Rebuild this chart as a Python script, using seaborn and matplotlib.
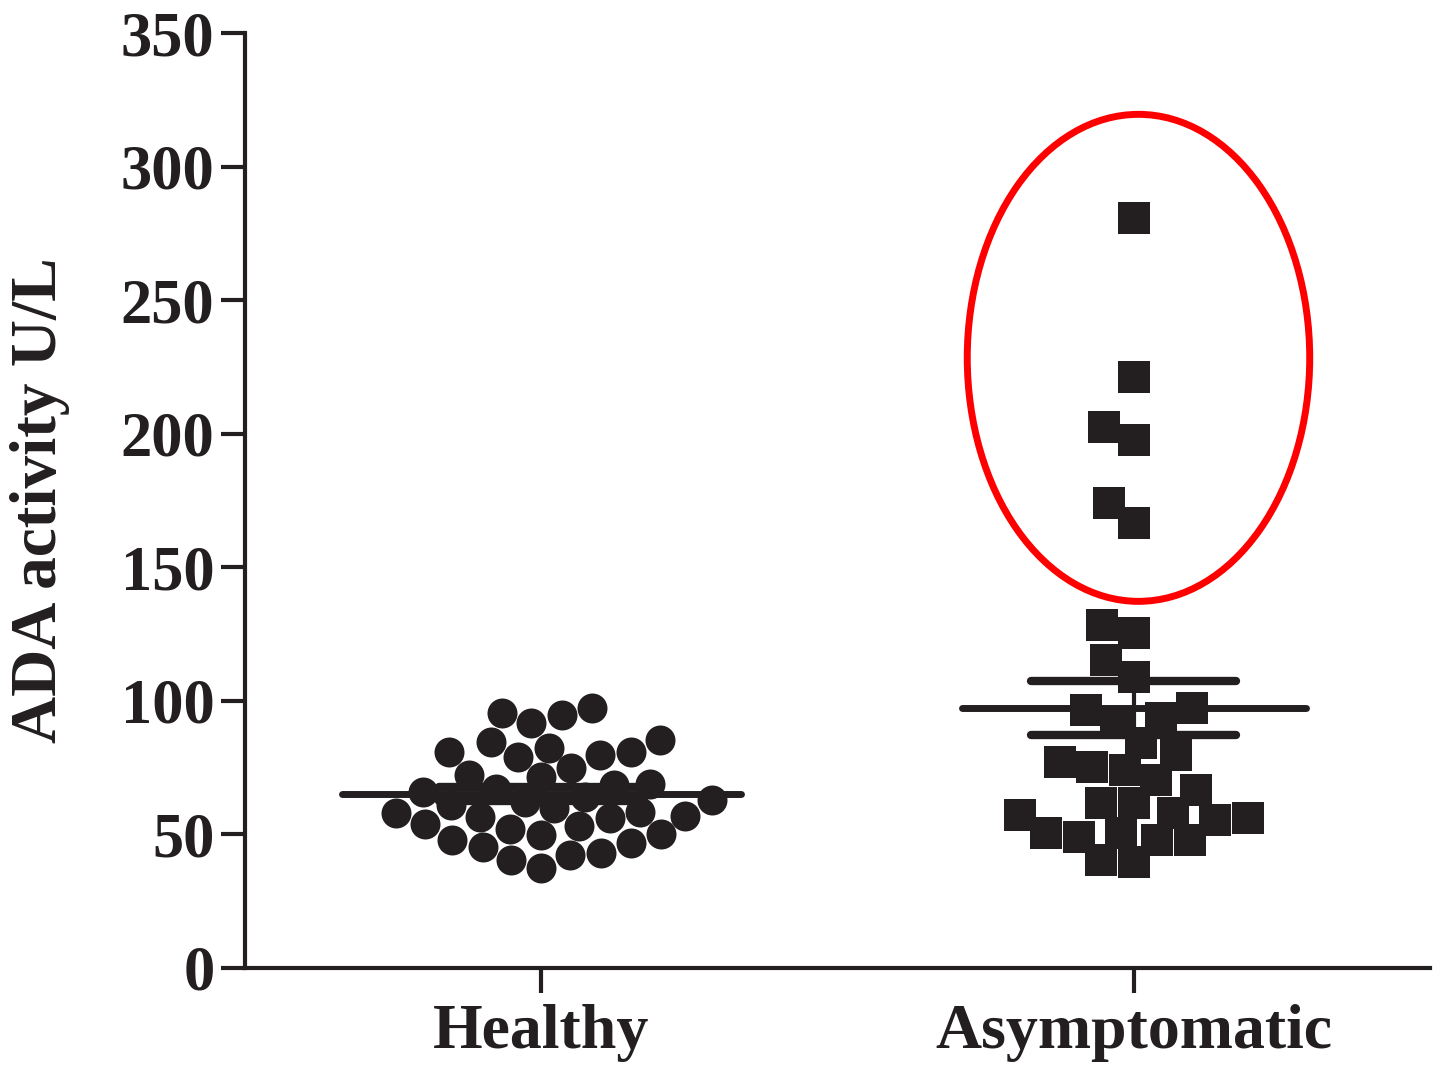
import matplotlib
matplotlib.use("Agg")
import matplotlib.pyplot as plt
from matplotlib.patches import Ellipse
import numpy as np
import pandas as pd
import seaborn as sns

# ADA activity (U/L)
groups = ["Healthy", "Asymptomatic"]
healthy_ada = [84.6, 81, 79, 95.5, 91.7, 94.7, 97.3, 85.4, 79.7, 80.9, 82.4,
               71.5, 74.9, 68.5, 72.3, 62.9, 58.4, 49.8, 56.5, 45.3, 42.3,
               37.4, 40.4, 43, 46.8,
               69, 66, 64, 62, 60, 58, 56, 54, 52, 50, 67, 61, 57, 53, 48]
asymptomatic_ada = [280.8, 221.3, 202.5, 197.7, 174.1, 166.6,
                    128.4, 125.4, 115.3, 109, 96.6, 97.3, 91.7, 93.6, 79.7,
                    84.2, 75.3, 70.4, 74.1, 77.1, 66.6, 61.8, 58, 61.8, 55.4,
                    57.3, 50.5, 49, 47.9, 47.9, 50.5, 39.7, 40.4, 56]
y_ticks = [0, 50, 100, 150, 200, 250, 300, 350]

# highlighted outliers (centre x, centre y, width, height)
outlier_box = (1.008, 228.4, 0.578, 182.3)

df = pd.DataFrame({
    "group": ["Healthy"] * len(healthy_ada) + ["Asymptomatic"] * len(asymptomatic_ada),
    "ada": healthy_ada + asymptomatic_ada,
})

sns.set_style("ticks")
plt.rcParams["font.family"] = ["Liberation Serif", "DejaVu Serif"]
plt.rcParams["font.weight"] = "bold"

fig = plt.figure(figsize=(14.4, 10.65), dpi=100)
ax = fig.add_axes([245 / 1440, 1 - 968 / 1065, 1185 / 1440, 935 / 1065])

ink = "#231f20"
sns.swarmplot(data=df[df.group == "Healthy"], x="group", y="ada", order=groups,
              marker="o", size=21.6, color=ink, linewidth=0, ax=ax, zorder=2)
sns.swarmplot(data=df[df.group == "Asymptomatic"], x="group", y="ada", order=groups,
              marker="s", size=22.5, color=ink, linewidth=0, ax=ax, zorder=2)

# mean and SEM lines
stats = df.groupby("group")["ada"].agg(["mean", "sem"]).reindex(groups)
mean_half = [0.337, 0.29]
sem_z = [1.5, 3]  # healthy SEM bars sit under the dots
for i, g in enumerate(groups):
    m, se = stats.loc[g, "mean"], stats.loc[g, "sem"]
    ax.hlines(m, i - mean_half[i], i + mean_half[i], color=ink, lw=5,
              capstyle="round", zorder=3)
    ax.hlines([m - se, m + se], i - 0.173, i + 0.173, color=ink, lw=6,
              capstyle="round", zorder=sem_z[i])
    ax.vlines(i, m - se, m + se, color=ink, lw=3, zorder=sem_z[i])

ax.add_patch(Ellipse(outlier_box[:2], outlier_box[2], outlier_box[3],
                     fill=False, edgecolor="#ff0000", lw=5, zorder=4))

ax.set_xlim(-0.5, 1.5)
ax.set_ylim(0, 350)
ax.set_yticks(y_ticks)
ax.set_xlabel("")
ax.set_ylabel("")
sns.despine(ax=ax)
for side in ["left", "bottom"]:
    ax.spines[side].set_linewidth(3)
    ax.spines[side].set_color(ink)
ax.tick_params(axis="y", length=17, width=3, pad=5, labelsize=45, colors=ink)
ax.tick_params(axis="x", length=18, width=3, pad=8, labelsize=46, colors=ink)
for lab in ax.get_xticklabels() + ax.get_yticklabels():
    lab.set_fontweight("bold")

fig.text(40 / 1440, 1 - 500 / 1065, "ADA activity U/L", rotation=90,
         ha="center", va="center", fontsize=47, fontweight="bold", color=ink)

fig.savefig("out.png", dpi=100)
